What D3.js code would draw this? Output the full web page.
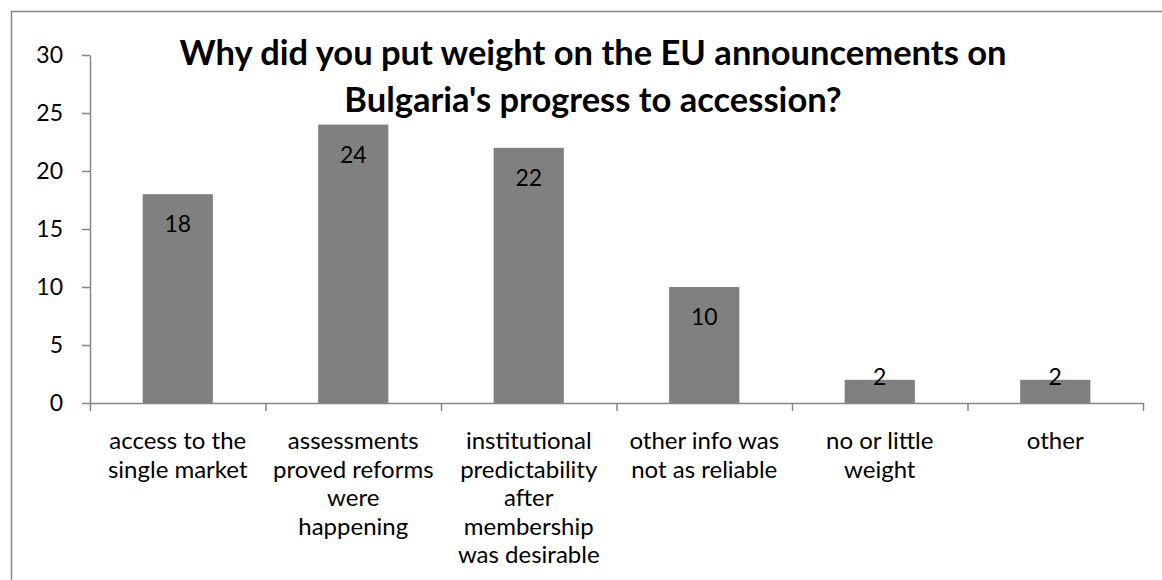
<!DOCTYPE html>
<html>
<head>
<meta charset="utf-8">
<script src="https://cdn.jsdelivr.net/npm/d3@7/dist/d3.min.js"></script>
<style>
  html, body { margin: 0; padding: 0; background: #fff; }
  svg { display: block; }
  text { font-family: Lato, "Open Sans", sans-serif; fill: #000; }
</style>
</head>
<body>
<svg id="chart" width="1162" height="580"></svg>
<script>
// Survey answers: reasons for weighting EU progress reports
const categories = [
  ["access to the", "single market"],
  ["assessments", "proved reforms", "were", "happening"],
  ["institutional", "predictability", "after", "membership", "was desirable"],
  ["other info was", "not as reliable"],
  ["no or little", "weight"],
  ["other"]
];
const values = [18, 24, 22, 10, 2, 2];
const yTicks = [0, 5, 10, 15, 20, 25, 30];
const titleLines = [
  "Why did you put weight on the EU announcements on",
  "Bulgaria's progress to accession?"
];

const svg = d3.select("#chart");
const axisColor = "#868686";
const barColor = "#808080";

// chart frame
svg.append("path")
  .attr("d", "M11.5,580 L11.5,11.5 L1162,11.5")
  .attr("fill", "none")
  .attr("stroke", axisColor)
  .attr("stroke-width", 1.5);

const plot = { left: 90, right: 1143, top: 55, bottom: 403 };

const y = d3.scaleLinear().domain([0, 30]).range([plot.bottom, plot.top]);
const x = d3.scaleBand()
  .domain(d3.range(values.length))
  .range([plot.left, plot.right])
  .padding(0);
const edges = d3.scaleLinear().domain([0, values.length]).range([plot.left, plot.right]);

// bars
const barW = x.bandwidth() * 0.4;
svg.append("g").selectAll("rect")
  .data(values)
  .join("rect")
  .attr("x", (d, i) => x(i) + (x.bandwidth() - barW) / 2)
  .attr("y", d => y(d))
  .attr("width", barW)
  .attr("height", d => y(0) - y(d))
  .attr("fill", barColor);

// y axis
const yAxis = svg.append("g")
  .attr("transform", `translate(${plot.left},0)`)
  .call(d3.axisLeft(y).tickValues(yTicks).tickSize(8).tickSizeOuter(0).tickPadding(19));
yAxis.selectAll("path, line").attr("stroke", axisColor).attr("stroke-width", 1.5);
yAxis.selectAll("text").attr("font-size", 23).attr("font-family", "Lato, sans-serif").attr("fill", "#000");

// x axis with ticks between categories
const xAxis = svg.append("g")
  .attr("transform", `translate(0,${plot.bottom})`)
  .call(d3.axisBottom(edges).ticks(values.length).tickSize(8).tickSizeOuter(0).tickFormat(""));
xAxis.selectAll("path, line").attr("stroke", axisColor).attr("stroke-width", 1.5);

// category labels
const catG = svg.append("g").selectAll("text")
  .data(categories)
  .join("text")
  .attr("text-anchor", "middle")
  .attr("font-size", 24)
  .attr("x", (d, i) => x(i) + x.bandwidth() / 2)
  .attr("y", 449);
catG.selectAll("tspan")
  .data(d => d)
  .join("tspan")
  .attr("x", function () { return this.parentNode.getAttribute("x"); })
  .attr("dy", (d, j) => j === 0 ? 0 : 28.6)
  .text(d => d);

// value labels, inside the bar end
svg.append("g").selectAll("text")
  .data(values)
  .join("text")
  .attr("text-anchor", "middle")
  .attr("dominant-baseline", "central")
  .attr("font-size", 23)
  .attr("x", (d, i) => x(i) + x.bandwidth() / 2)
  .attr("y", d => Math.min(y(d) + 29, y(0) - 27))
  .text(d => d);

// title
svg.append("text")
  .attr("text-anchor", "middle")
  .attr("font-size", 34.5)
  .attr("font-weight", "bold")
  .attr("x", 593)
  .attr("y", 65)
  .selectAll("tspan")
  .data(titleLines)
  .join("tspan")
  .attr("x", 593)
  .attr("dy", (d, j) => j === 0 ? 0 : 46.5)
  .text(d => d);
</script>
</body>
</html>
